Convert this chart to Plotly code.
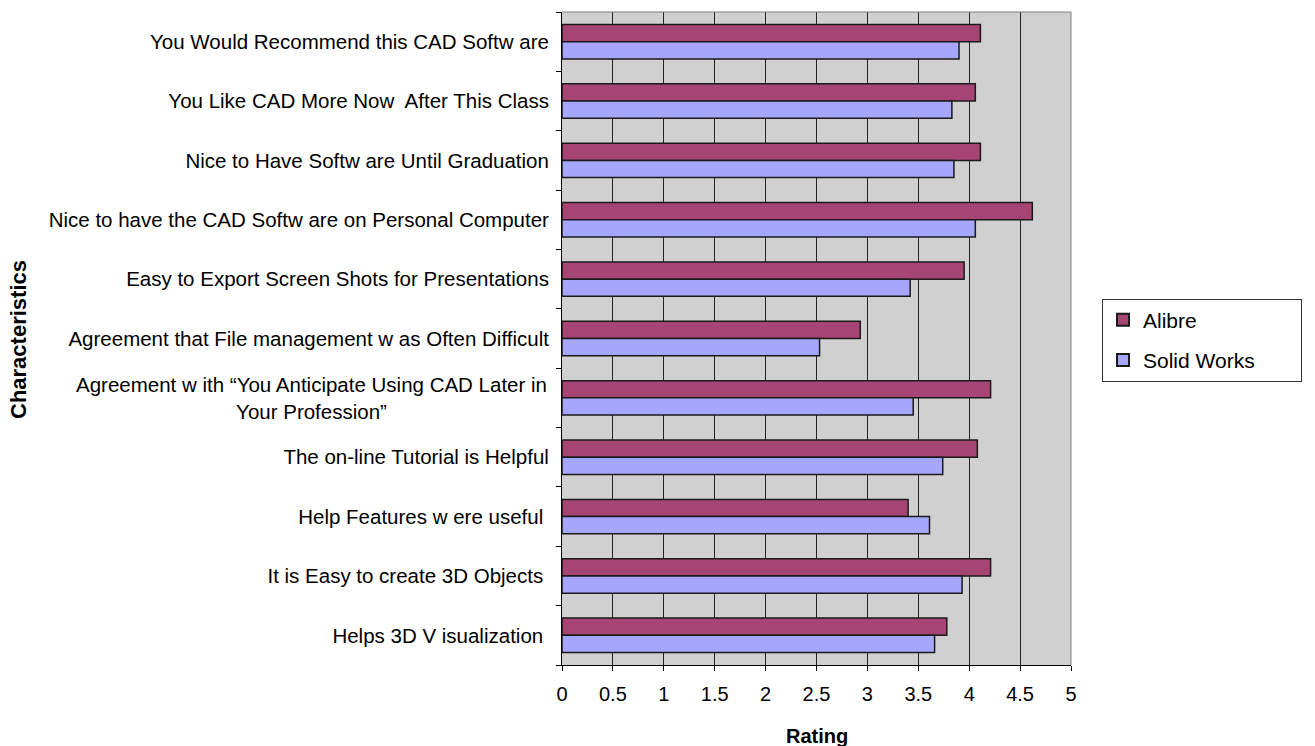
import plotly.graph_objects as go

categories = [
    "You Would Recommend this CAD Softw are",
    "You Like CAD More Now  After This Class",
    "Nice to Have Softw are Until Graduation",
    "Nice to have the CAD Softw are on Personal Computer",
    "Easy to Export Screen Shots for Presentations",
    "Agreement that File management w as Often Difficult",
    "Agreement w ith “You Anticipate Using CAD Later in<br>Your Profession”",
    "The on-line Tutorial is Helpful",
    "Help Features w ere useful ",
    "It is Easy to create 3D Objects ",
    "Helps 3D V isualization ",
]
series_names = ["Alibre", "Solid Works"]
alibre = [4.11, 4.06, 4.11, 4.62, 3.95, 2.93, 4.21, 4.08, 3.40, 4.21, 3.78]
solidworks = [3.90, 3.83, 3.85, 4.06, 3.42, 2.53, 3.45, 3.74, 3.61, 3.93, 3.66]
x_ticks = [0, 0.5, 1, 1.5, 2, 2.5, 3, 3.5, 4, 4.5, 5]

FONT = "Liberation Sans, Arial, sans-serif"
LABEL_SIZE = 20.5
PAD = "\u00a0" * 7  # widens the legend box like the reference

fig = go.Figure()
fig.add_trace(go.Bar(y=categories, x=alibre, orientation="h", name=series_names[0] + PAD,
                     legendgroup="a",
                     marker=dict(color="#A64474", line=dict(color="#1a1a1a", width=1.5))))
fig.add_trace(go.Bar(y=categories, x=solidworks, orientation="h", name=series_names[1] + PAD,
                     legendgroup="b",
                     marker=dict(color="#A6A6FF", line=dict(color="#1a1a1a", width=1.5))))

PLOT_H = 746 - 12 - 81
PLOT_W = 1315 - 562 - 244

# multi-line labels are drawn as centred annotations (Excel-style), others as tick labels
tick_text = ["" if "<br>" in c else c for c in categories]
label_annotations = [
    dict(text=c, x=-(562 - 549) / PLOT_W, y=c, xref="paper", yref="y",
         xanchor="right", yanchor="middle", align="center", showarrow=False,
         font=dict(size=LABEL_SIZE, family=FONT))
    for c in categories if "<br>" in c
]

fig.update_layout(
    width=1315, height=746,
    margin=dict(l=562, r=244, t=12, b=81, autoexpand=False),
    paper_bgcolor="white", plot_bgcolor="#D0D0D0",
    barmode="group", bargap=0.42, bargroupgap=0.0,
    font=dict(family=FONT, size=LABEL_SIZE, color="black"),
    showlegend=True,
    legend=dict(x=(1102 - 562) / PLOT_W, y=(665 - 340) / PLOT_H, xanchor="left", yanchor="middle",
                traceorder="grouped",
                bordercolor="#333333", borderwidth=1, bgcolor="white",
                font=dict(size=21, family=FONT), itemsizing="constant",
                tracegroupgap=10),
    annotations=[
        dict(text="<b>Rating</b>", x=0.5, y=(665 - 736) / PLOT_H, xref="paper", yref="paper",
             xanchor="center", yanchor="middle", showarrow=False, font=dict(size=20, family=FONT)),
        dict(text="<b>Characteristics</b>", x=-(562 - 18) / PLOT_W, y=(665 - 340) / PLOT_H,
             xref="paper", yref="paper",
             xanchor="center", yanchor="middle", showarrow=False, textangle=-90,
             font=dict(size=22, family=FONT)),
    ] + label_annotations,
)

fig.update_xaxes(range=[0, 5], tickvals=x_ticks, ticktext=[str(v) for v in x_ticks],
                 showgrid=True, gridcolor="#222222", gridwidth=1,
                 showline=True, linecolor="black", linewidth=1,
                 ticks="outside", ticklen=5, tickcolor="black", ticklabelstandoff=6,
                 tickfont=dict(size=20, family=FONT), mirror=False, zeroline=False,
                 automargin=False)
fig.update_yaxes(autorange="reversed", type="category",
                 tickmode="array", tickvals=categories, ticktext=tick_text,
                 showline=True, linecolor="black", linewidth=1,
                 ticks="outside", ticklen=5, tickcolor="black", tickson="boundaries",
                 ticklabelstandoff=8, automargin=False,
                 showgrid=False, tickfont=dict(size=LABEL_SIZE, family=FONT))

# plot-area border on top and right (gray)
fig.add_shape(type="line", xref="paper", yref="paper", x0=0, x1=1, y0=1, y1=1,
              line=dict(color="#808080", width=1))
fig.add_shape(type="line", xref="paper", yref="paper", x0=1, x1=1, y0=0, y1=1,
              line=dict(color="#808080", width=1))

fig.write_html("out.html")
